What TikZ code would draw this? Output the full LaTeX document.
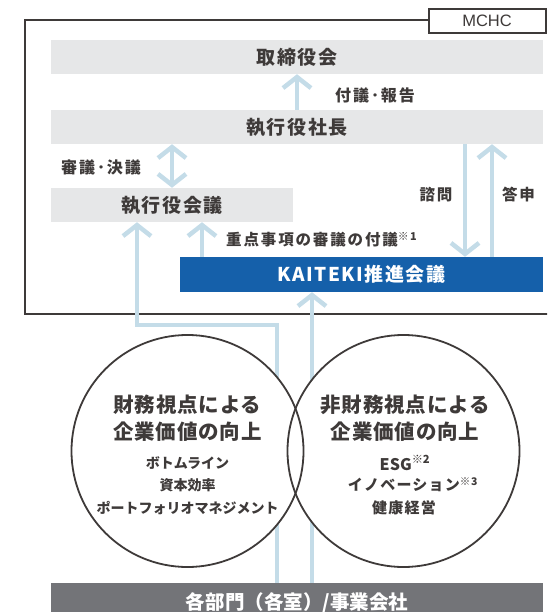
\documentclass[tikz,border=0pt]{standalone}
\usepackage{fontspec}
\setmainfont{Noto Sans CJK JP}
\newfontfamily\jpbar[LetterSpace=8]{Noto Sans CJK JP}
\newfontfamily\jplab[LetterSpace=12]{Noto Sans CJK JP}
\newfontfamily\jpcir[LetterSpace=4]{Noto Sans CJK JP}
\newfontfamily\jpitem{Noto Sans CJK JP}
\newfontfamily\jpwide[LetterSpace=8]{Noto Sans CJK JP}
\newfontfamily\arialf{Liberation Sans}
\usetikzlibrary{arrows.meta}
\definecolor{ink}{RGB}{62,58,57}
\definecolor{barg}{RGB}{230,231,232}
\definecolor{ablue}{RGB}{196,220,232}
\definecolor{kblue}{RGB}{21,96,170}
\definecolor{botg}{RGB}{115,116,120}
\begin{document}
\begin{tikzpicture}[x=1pt,y=-1pt,
  bar/.style={fill=barg, minimum height=34pt, inner sep=0pt, text=ink,
    font=\jpbar\bfseries\fontsize{19}{22}\selectfont},
  lab/.style={text=ink, inner sep=0pt, font=\jplab\bfseries\fontsize{15.5}{18}\selectfont},
  ctitle/.style={text=ink, inner sep=0pt, font=\jpcir\bfseries\fontsize{20.5}{24}\selectfont},
  citem/.style={text=ink, inner sep=0pt, font=\jpitem\bfseries\fontsize{14}{16}\selectfont},
  ritem/.style={text=ink, inner sep=0pt, font=\jpwide\bfseries\fontsize{15}{17}\selectfont},
  frame/.style={draw=ink, line width=2pt},
  link/.style={draw=ablue, line width=4.5pt},
  arr/.style={link, -{Straight Barb[length=11pt,width=28pt]}},
  darr/.style={link, {Straight Barb[length=11pt,width=28pt]}-{Straight Barb[length=11pt,width=28pt]}},
  circ/.style={circle, draw=ink, line width=1.8pt, minimum size=232pt, inner sep=0pt}
]
\useasboundingbox (0,0) rectangle (547,612);
\clip (0,0) rectangle (547,612);

% frame
\coordinate (ftl) at (25,20);
\coordinate (fbl) at (25,314);
\coordinate (fbr) at (560,314);
\coordinate (mchcw) at (428.5,20);
\draw[frame] (mchcw) -- (ftl) -- (fbl) -- (fbr);
\node[draw=ink, line width=2pt, fill=white, minimum width=117pt, minimum height=24pt,
  inner sep=0pt, text=ink, font=\arialf\fontsize{16.5}{18}\selectfont] (mchc) at (487,21) {MCHC};

% bars
\node[bar, minimum width=492pt] (board) at (297,57) {取締役会};
\node[bar, minimum width=492pt] (pres) at (297,127) {執行役社長};
\node[bar, minimum width=242pt] (exec) at (172,205) {執行役会議};
\node[bar, fill=kblue, text=white, minimum width=363pt, minimum height=35pt] (kai) at (361.5,274.5) {KAITEKI推進会議};
\node[bar, fill=botg, text=white, minimum width=492pt, minimum height=40pt,
  font=\jpitem\bfseries\fontsize{19.5}{22}\selectfont] (dept) at (297,603) {各部門（各室）/事業会社};

% connectors
\coordinate (xq) at (465,0);
\coordinate (xa) at (492,0);
\coordinate (xf) at (202,0);
\coordinate (xl) at (137,0);
\coordinate (xr) at (277,0);
\coordinate (xk) at (312,0);
\coordinate (yc) at (0,325);
\draw[arr] (pres.north) -- (board.south);
\draw[darr] (pres.south -| exec.north) -- (exec.north);
\draw[arr] (pres.south -| xq) -- (kai.north -| xq);
\draw[arr] (kai.north -| xa) -- (pres.south -| xa);
\draw[arr] (kai.north -| xf) -- (exec.south -| xf);
\draw[arr] (dept.north -| xr) -- (xr |- yc) -- (xl |- yc) -- (exec.south -| xl);
\draw[arr] (dept.north -| xk) -- (kai.south -| xk);

% labels
\node[lab, font=\jplab\bfseries\fontsize{16}{18}\selectfont] (l1) at (375,95) {付議･報告};
\node[lab, font=\jplab\bfseries\fontsize{16}{18}\selectfont] (l2) at (101,167) {審議･決議};
\node[lab] (l3) at (436,195) {諮問};
\node[lab] (l4) at (518.5,195) {答申};
\node[lab, anchor=west] (l5) at (226,240) {重点事項の審議の付議\textsuperscript{※1}};

% circles
\fill[white] (187.5,451) circle[radius=116];
\fill[white] (403.5,451) circle[radius=116];
\node[circ] (lc) at (187.5,451) {};
\node[circ] (rc) at (403.5,451) {};

\node[ctitle] (lt1) at (187.5,405) {財務視点による};
\node[ctitle] (lt2) at (187.5,432) {企業価値の向上};
\node[citem] (li1) at (187.5,463) {ボトムライン};
\node[citem] (li2) at (187.5,485) {資本効率};
\node[citem] (li3) at (187.5,508) {ポートフォリオマネジメント};

\node[ctitle] (rt1) at (405,405) {非財務視点による};
\node[ctitle] (rt2) at (405,432) {企業価値の向上};
\node[ritem, font=\jpitem\bfseries\fontsize{16}{18}\selectfont] (ri1) at (405,463) {ESG\textsuperscript{※2}};
\node[ritem] (ri2) at (413,485) {イノベーション\textsuperscript{※3}};
\node[ritem] (ri3) at (404,508) {健康経営};
\end{tikzpicture}
\end{document}
